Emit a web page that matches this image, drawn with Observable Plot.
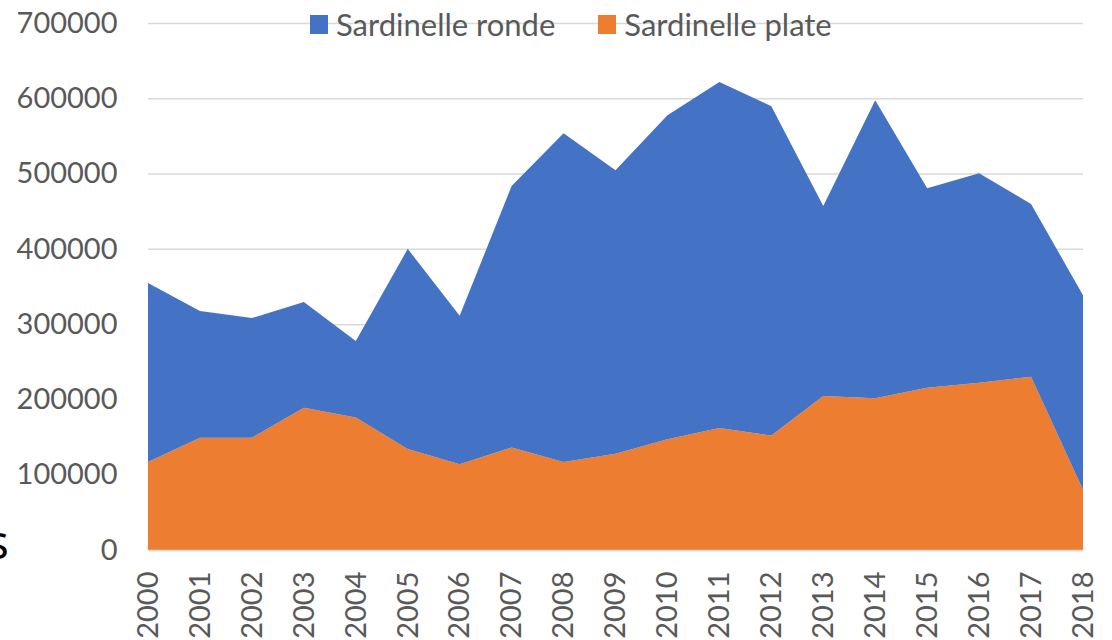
<!DOCTYPE html>
<html>
<head>
<meta charset="utf-8">
<script src="https://cdn.jsdelivr.net/npm/d3@7"></script>
<script src="https://cdn.jsdelivr.net/npm/@observablehq/plot@0.6"></script>
<style>
  html, body { margin: 0; padding: 0; background: #fff; overflow: hidden; }
  #wrap { position: relative; width: 1112px; height: 640px; font-family: Lato, "Open Sans", sans-serif; }
  #legend { position: absolute; top: 5px; left: 310px; display: flex; align-items: center; font-size: 31px; color: #595959; white-space: nowrap; }
  .sw { display: inline-block; width: 18px; height: 19px; margin-right: 8px; }
  .item { display: flex; align-items: center; margin-right: 43px; }
  #stray { position: absolute; left: -14px; top: 508px; font-size: 48px; color: #000; font-family: "Open Sans", sans-serif; }
</style>
</head>
<body>
<div id="wrap"></div>
<script>
const years = [2000,2001,2002,2003,2004,2005,2006,2007,2008,2009,2010,2011,2012,2013,2014,2015,2016,2017,2018];
const seriesNames = ["Sardinelle ronde", "Sardinelle plate"];
const seriesColors = ["#4472C4", "#ED7D31"];
const plate = [117000,149000,149000,189000,176000,134000,114000,136000,117000,128000,147000,162000,152000,204500,201500,215500,222000,230000,80000];
const ronde = [237500,168500,159000,140500,101500,266000,197000,347500,436500,376500,430500,459500,437500,252500,396000,265000,278500,229500,258500];
const yTicks = [0,100000,200000,300000,400000,500000,600000,700000];

const data = [];
years.forEach((y, i) => data.push({year: y, series: "Sardinelle plate", value: plate[i]}));
years.forEach((y, i) => data.push({year: y, series: "Sardinelle ronde", value: ronde[i]}));

const chart = Plot.plot({
  width: 1112,
  height: 640,
  marginLeft: 148,
  marginRight: 29,
  marginTop: 23,
  marginBottom: 90,
  style: {fontFamily: "Lato, 'Open Sans', sans-serif", fontSize: "29px", color: "#595959", background: "transparent"},
  x: {type: "linear", domain: [2000, 2018]},
  y: {domain: [0, 700000]},
  color: {domain: seriesNames, range: seriesColors},
  marks: [
    Plot.gridY(yTicks, {stroke: "#d9d9d9", strokeOpacity: 1, strokeWidth: 1.5}),
    Plot.areaY(data, {x: "year", y: "value", fill: "series", z: "series"}),
    Plot.ruleY([0], {stroke: "#d9d9d9", strokeWidth: 1.5}),
    Plot.axisY(yTicks, {tickSize: 0, tickPadding: 31, tickFormat: d3.format("d"), label: null, fill: "#595959"}),
    Plot.axisX(years, {tickSize: 0, tickPadding: 21, tickRotate: -90, tickFormat: d => String(d), label: null, fill: "#595959"})
  ]
});

const wrap = document.getElementById("wrap");
wrap.appendChild(chart);

const legend = document.createElement("div");
legend.id = "legend";
seriesNames.forEach((name, i) => {
  const item = document.createElement("span");
  item.className = "item";
  const sw = document.createElement("span");
  sw.className = "sw";
  sw.style.background = seriesColors[i];
  item.appendChild(sw);
  item.appendChild(document.createTextNode(name));
  legend.appendChild(item);
});
wrap.appendChild(legend);

const stray = document.createElement("div");
stray.id = "stray";
stray.textContent = "s";
wrap.appendChild(stray);
</script>
</body>
</html>
